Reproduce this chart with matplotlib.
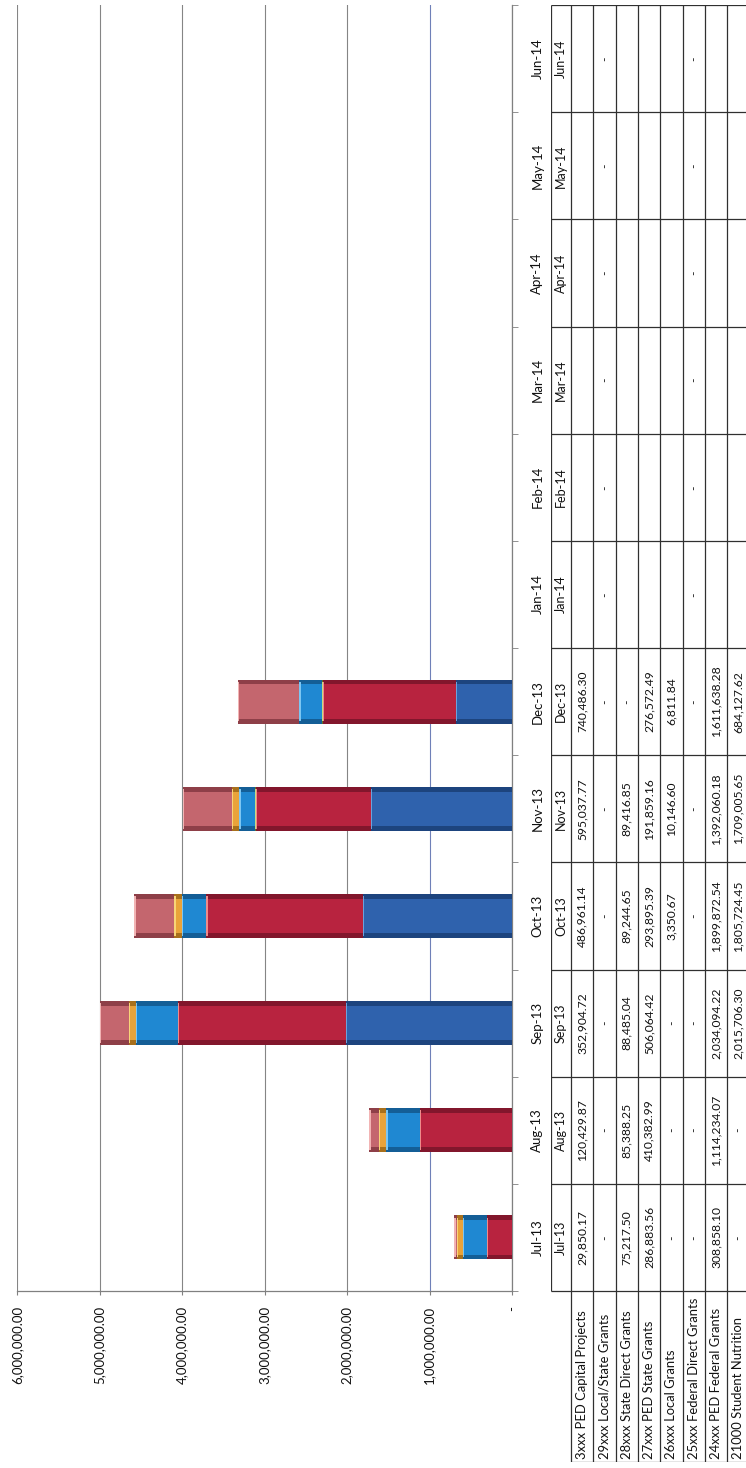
import matplotlib
matplotlib.use('Agg')
import matplotlib.pyplot as plt
from matplotlib.ticker import FuncFormatter

plt.rcParams['font.family'] = ['Lato', 'DejaVu Sans']

months = ['Jul-13', 'Aug-13', 'Sep-13', 'Oct-13', 'Nov-13', 'Dec-13',
          'Jan-14', 'Feb-14', 'Mar-14', 'Apr-14', 'May-14', 'Jun-14']

# table rows (top to bottom of the data table); None = empty cell, 0 = "-"
row_names = ['3xxx PED Capital Projects', '29xxx Local/State Grants',
             '28xxx State Direct Grants', '27xxx PED State Grants',
             '26xxx Local Grants', '25xxx Federal Direct Grants',
             '24xxx PED Federal Grants', '21000 Student Nutrition']

capital_3xxx = [29850.17, 120429.87, 352904.72, 486961.14, 595037.77, 740486.30,
                None, None, None, None, None, None]
local_state_29xxx = [0, 0, 0, 0, 0, 0, 0, 0, 0, 0, 0, 0]
state_direct_28xxx = [75217.50, 85388.25, 88485.04, 89244.65, 89416.85, 0,
                      None, None, None, None, None, None]
ped_state_27xxx = [286883.56, 410382.99, 506064.42, 293895.39, 191859.16, 276572.49,
                   None, None, None, None, None, None]
local_26xxx = [0, 0, 0, 3350.67, 10146.60, 6811.84,
               None, None, None, None, None, None]
fed_direct_25xxx = [0, 0, 0, 0, 0, 0, 0, 0, 0, 0, 0, 0]
ped_federal_24xxx = [308858.10, 1114234.07, 2034094.22, 1899872.54, 1392060.18, 1611638.28,
                     None, None, None, None, None, None]
nutrition_21000 = [0, 0, 2015706.30, 1805724.45, 1709005.65, 684127.62,
                   None, None, None, None, None, None]

table_rows = [capital_3xxx, local_state_29xxx, state_direct_28xxx, ped_state_27xxx,
              local_26xxx, fed_direct_25xxx, ped_federal_24xxx, nutrition_21000]

# (main, dark edge, light cap) per row
row_colors = [('#c4666e', '#8e3f48', '#f2b4b4'),
              ('#7a5aa0', '#523a70', '#b8a0d8'),
              ('#e9a33a', '#a8701c', '#f8d478'),
              ('#1f88d2', '#145e96', '#7cc6f2'),
              ('#8aa83c', '#5e7426', '#c4dc80'),
              ('#3fa0a0', '#286c6c', '#90d4d4'),
              ('#b8233f', '#82162c', '#f08a8a'),
              ('#2f62ad', '#1d447e', '#6aa2dc')]

value_ticks = [0, 1000000, 2000000, 3000000, 4000000, 5000000, 6000000]

W, H = 746, 1468
fig = plt.figure(figsize=(W / 100, H / 100), dpi=100)
fig.patch.set_facecolor('white')

txt = '#111111'

# pixel layout
x6m, x0 = 17, 512
ytop, yaxis = 5, 1291
ax = fig.add_axes([x6m / W, (H - yaxis) / H, (x0 - x6m) / W, (yaxis - ytop) / H])

n = len(months)
cats = list(range(n))
bar_h = 0.41
cap_w = 16000

left = [0.0] * n
for vals, (main, dark, light) in zip(reversed(table_rows), reversed(row_colors)):
    v = [x if x else 0 for x in vals]
    ax.barh(cats, v, left=left, height=bar_h, color=dark, lw=0, zorder=3)
    ax.barh(cats, v, left=left, height=bar_h * 0.78, color=main, lw=0, zorder=3)
    cap = [min(a, cap_w) for a in v]
    ax.barh(cats, cap, left=[l + a - c for l, a, c in zip(left, v, cap)],
            height=bar_h * 0.9, color=light, lw=0, zorder=3)
    left = [l + a for l, a in zip(left, v)]

ax.set_xlim(6000000, 0)
ax.set_ylim(-0.5, n - 0.5)
ax.set_xticks(value_ticks)
ax.xaxis.set_major_formatter(FuncFormatter(lambda v, p: '-' if v == 0 else f'{v:,.2f}'))
ax.tick_params(axis='x', direction='out', length=3, pad=8, labelrotation=90,
               labelsize=9.5, color='#808080', labelcolor=txt)

ax.yaxis.tick_right()
ax.set_yticks(cats)
ax.set_yticklabels(months)
ax.set_yticks([k - 0.5 for k in range(n + 1)], minor=True)
ax.tick_params(axis='y', which='major', length=0, pad=14, labelrotation=90,
               labelsize=9.5, labelcolor=txt)
ax.tick_params(axis='y', which='minor', length=4, direction='out', color='#808080')
for t in ax.get_yticklabels():
    t.set_va('center')

ax.grid(axis='x', color='#858585', lw=0.8)
ax.set_axisbelow(True)
ax.xaxis.get_gridlines()[1].set_color('#6f80b8')
for s in ['left', 'top']:
    ax.spines[s].set_visible(False)
for s in ['right', 'bottom']:
    ax.spines[s].set_color('#808080')
    ax.spines[s].set_linewidth(0.9)

# data table
hdr_px, row_px = 20, 22.3
xtab, ybot = 551, 1462
nr = len(row_names)
cat_px = (yaxis - ytop) / n
lab_h = (ybot - yaxis) / cat_px
hw = hdr_px / row_px
tab = fig.add_axes([xtab / W, (H - ybot) / H, (hdr_px + nr * row_px) / W, (ybot - ytop) / H])
tab.set_xlim(-hw, nr)
tab.set_ylim(-0.5 - lab_h, n - 0.5)
tab.axis('off')

lc, lw = '#303030', 0.9
tab.vlines(-hw, -0.5, n - 0.5, color=lc, lw=lw)
tab.vlines(range(nr + 1), -0.5 - lab_h, n - 0.5, color=lc, lw=lw)
tab.hlines([k - 0.5 for k in range(n + 1)], -hw, nr, color=lc, lw=lw)
tab.hlines(-0.5 - lab_h, 0, nr, color=lc, lw=lw)


def fmt(v):
    if v is None:
        return ''
    return '-' if v == 0 else f'{v:,.2f}'


for k, m in enumerate(months):
    tab.text(-hw / 2, k, m, rotation=90, ha='center', va='center', fontsize=9, color=txt)
for i, (name, vals) in enumerate(zip(row_names, table_rows)):
    tab.text(i + 0.5, -0.5 - lab_h + 0.03, name, rotation=90, ha='center', va='bottom',
             fontsize=9.4, color=txt)
    for k, v in enumerate(vals):
        tab.text(i + 0.5, k, fmt(v), rotation=90, ha='center', va='center',
                 fontsize=8.7, color=txt)

fig.savefig('out.png', dpi=100)
